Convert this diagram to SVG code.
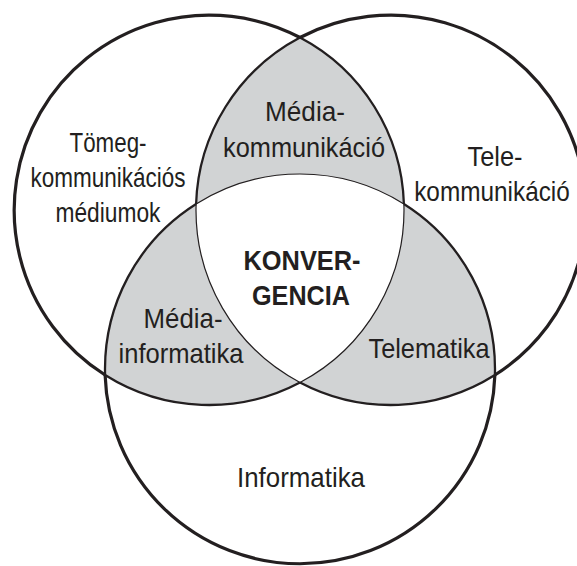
<svg xmlns="http://www.w3.org/2000/svg" width="577" height="566" viewBox="0 0 577 566">
<style>
.bg{fill:#ffffff}
.lens{fill:#d1d3d4;stroke:none}
.core{fill:#ffffff;stroke:none}
.outer{fill:none;stroke:#231f20;stroke-width:3.2}
.mid{fill:none;stroke:#231f20;stroke-width:2.3}
.thin{fill:none;stroke:#231f20;stroke-width:1.2}
text{font-family:"Liberation Sans",Arial,sans-serif;font-size:28px;fill:#231f20;text-anchor:middle}
.b{font-weight:bold}
</style>
<rect class="bg" x="0" y="0" width="577" height="566"/>
<g id="fills">
  <path id="lens-LR" class="lens" d="M300 37.54 A195 195 0 0 0 300 382.46 A195 195 0 0 0 300 37.54 Z"/>
  <path id="lens-LB" class="lens" d="M403.9 204 A195 195 0 0 1 105.1 375 A195 195 0 0 1 403.9 204 Z"/>
  <path id="lens-RB" class="lens" d="M494.9 375 A195 195 0 0 1 196.1 204 A195 195 0 0 1 494.9 375 Z"/>
  <path id="core" class="core" d="M196.1 204 A195 195 0 0 1 403.9 204 A195 195 0 0 1 300 382.46 A195 195 0 0 1 196.1 204 Z"/>
</g>
<g id="connectors">
  <g id="circle-left">
    <path class="outer" d="M105.1 375 A195 195 0 0 1 300 37.54"/>
    <path class="mid" d="M300 37.54 A195 195 0 0 1 403.9 204"/>
    <path class="thin" d="M403.9 204 A195 195 0 0 1 300 382.46"/>
    <path class="mid" d="M300 382.46 A195 195 0 0 1 105.1 375"/>
  </g>
  <g id="circle-right">
    <path class="outer" d="M300 37.54 A195 195 0 0 1 494.9 375"/>
    <path class="mid" d="M494.9 375 A195 195 0 0 1 300 382.46"/>
    <path class="thin" d="M300 382.46 A195 195 0 0 1 196.1 204"/>
    <path class="mid" d="M196.1 204 A195 195 0 0 1 300 37.54"/>
  </g>
  <g id="circle-bottom">
    <path class="outer" d="M494.9 375 A195 195 0 0 1 105.1 375"/>
    <path class="mid" d="M105.1 375 A195 195 0 0 1 196.1 204"/>
    <path class="thin" d="M196.1 204 A195 195 0 0 1 403.9 204"/>
    <path class="mid" d="M403.9 204 A195 195 0 0 1 494.9 375"/>
  </g>
</g>
<g id="tomegkommunikacio">
  <text x="108" y="152" textLength="77" lengthAdjust="spacingAndGlyphs">Tömeg-</text>
  <text x="108" y="187" textLength="155" lengthAdjust="spacingAndGlyphs">kommunikációs</text>
  <text x="108" y="222" textLength="105" lengthAdjust="spacingAndGlyphs">médiumok</text>
</g>
<g id="mediakommunikacio">
  <text x="305" y="121" textLength="80" lengthAdjust="spacingAndGlyphs">Média-</text>
  <text x="304" y="157" textLength="162" lengthAdjust="spacingAndGlyphs">kommunikáció</text>
</g>
<g id="telekommunikacio">
  <text x="495" y="166" textLength="55" lengthAdjust="spacingAndGlyphs">Tele-</text>
  <text transform="translate(492 201) scale(0.87 1)" x="0" y="0">kommunikáció</text>
</g>
<g id="konvergencia">
  <text class="b" x="302" y="270" textLength="117" lengthAdjust="spacingAndGlyphs">KONVER-</text>
  <text class="b" x="301" y="305" textLength="98" lengthAdjust="spacingAndGlyphs">GENCIA</text>
</g>
<g id="mediainformatika">
  <text x="183" y="328" textLength="79" lengthAdjust="spacingAndGlyphs">Média-</text>
  <text x="181" y="363" textLength="125" lengthAdjust="spacingAndGlyphs">informatika</text>
</g>
<g id="telematika">
  <text x="429" y="358" textLength="121" lengthAdjust="spacingAndGlyphs">Telematika</text>
</g>
<g id="informatika">
  <text x="301" y="487" textLength="128" lengthAdjust="spacingAndGlyphs">Informatika</text>
</g>
</svg>
